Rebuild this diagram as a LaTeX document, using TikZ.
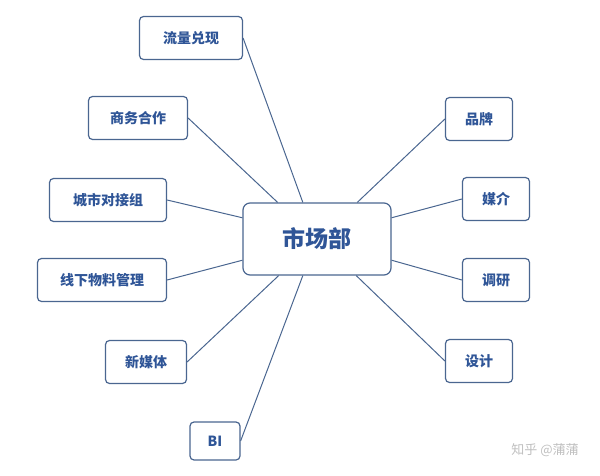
\documentclass[tikz,border=0pt]{standalone}
\usepackage{fontspec}
\newfontfamily\cjk{Noto Sans CJK SC}
\usetikzlibrary{positioning,calc}
\definecolor{boxline}{HTML}{4A6690}
\definecolor{boxtext}{HTML}{2F5597}
\tikzset{
        % branch boxes
        leaf/.style={draw=boxline, line width=1.2pt, rounded corners=4pt, fill=white, text=boxtext, font=\cjk\bfseries\fontsize{14}{16}\selectfont, inner sep=0pt, minimum height=43pt},
        % centre box
        hub/.style={leaf, rounded corners=7pt, font=\cjk\bfseries\fontsize{23}{27}\selectfont, minimum width=148pt, minimum height=72pt},
        link/.style={draw=boxline, line width=1pt}
}
\begin{document}
\begin{tikzpicture}[x=1pt,y=-1pt]
    \useasboundingbox (0,0) rectangle (600,476);
    \node[hub] (mkt) at (317,239) {市场部};
    % left side
    \node[leaf, minimum width=103pt] (flow) at (191,38) {流量兑现};
    \node[leaf, minimum width=99pt] (biz) at (138,118) {商务合作};
    \node[leaf, minimum width=117pt] (city) at (108,200) {城市对接组};
    \node[leaf, minimum width=129pt] (offl) at (102,280) {线下物料管理};
    \node[leaf, minimum width=81pt] (media) at (146,362) {新媒体};
    \node[leaf, minimum width=50pt, minimum height=38pt] (bi) at (215,441) {BI};
    % right side
    \node[leaf, minimum width=67pt] (brand) at (479,119) {品牌};
    \node[leaf, minimum width=67pt] (agency) at (496,199) {媒介};
    \node[leaf, minimum width=67pt] (survey) at (496,280) {调研};
    \node[leaf, minimum width=67pt] (design) at (479,361) {设计};
    \node[text=black!25, font=\cjk\fontsize{13}{15}\selectfont] (mark) at (545,450) {知乎 @蒲蒲};
    % links
    \draw[link] (flow.east) -- ($(mkt.north west)!0.405!(mkt.north east)$);
    \draw[link] (biz.east) -- ($(mkt.north west)!0.236!(mkt.north east)$);
    \draw[link] (city.east) -- ($(mkt.north west)!0.21!(mkt.south west)$);
    \draw[link] (offl.east) -- ($(mkt.north west)!0.79!(mkt.south west)$);
    \draw[link] (media.east) -- ($(mkt.south west)!0.243!(mkt.south east)$);
    \draw[link] (bi.east) -- ($(mkt.south west)!0.405!(mkt.south east)$);
    \draw[link] (brand.west) -- ($(mkt.north west)!0.77!(mkt.north east)$);
    \draw[link] (agency.west) -- ($(mkt.north east)!0.21!(mkt.south east)$);
    \draw[link] (survey.west) -- ($(mkt.north east)!0.79!(mkt.south east)$);
    \draw[link] (design.west) -- ($(mkt.south west)!0.763!(mkt.south east)$);
\end{tikzpicture}
\end{document}
